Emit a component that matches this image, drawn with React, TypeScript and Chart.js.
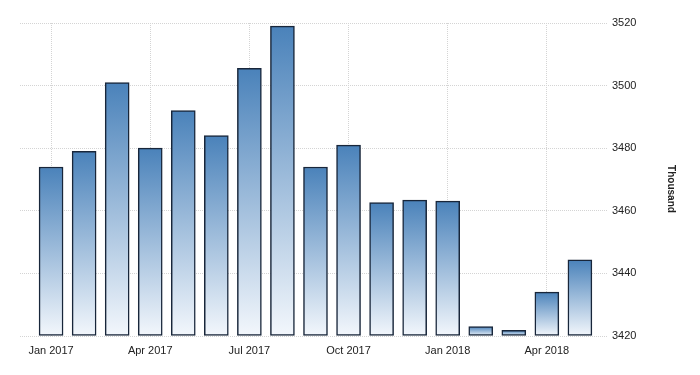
import React, { useEffect, useRef } from "react";
import { Chart, registerables } from "chart.js";

Chart.register(...registerables);

const months = [
  "Jan 2017", "Feb 2017", "Mar 2017", "Apr 2017", "May 2017", "Jun 2017",
  "Jul 2017", "Aug 2017", "Sep 2017", "Oct 2017", "Nov 2017", "Dec 2017",
  "Jan 2018", "Feb 2018", "Mar 2018", "Apr 2018", "May 2018",
];
const values = [
  3474, 3479, 3501, 3480, 3492, 3484, 3505.5, 3519, 3474, 3481, 3462.6, 3463.4,
  3463.1, 3423, 3421.8, 3434, 3444.3,
];
const xTickIndexes = [0, 3, 6, 9, 12, 15];
const yTicks = [3420, 3440, 3460, 3480, 3500, 3520];
const unitLabel = "Thousand";

const FONT = "'Liberation Sans', Arial, sans-serif";

export default function App() {
  const ref = useRef<HTMLCanvasElement | null>(null);
  useEffect(() => {
    document.body.style.margin = "0";
    const canvas = ref.current!;
    const titlePlugin = {
      id: "unitTitle",
      afterDraw(chart: any) {
        const c = chart.ctx;
        c.save();
        c.translate(671, 189);
        c.rotate(Math.PI / 2);
        c.font = `bold 10px ${FONT}`;
        c.fillStyle = "#222";
        c.textAlign = "center";
        c.textBaseline = "middle";
        c.fillText(unitLabel, 0, 0);
        c.restore();
      },
    };
    const chart = new Chart(canvas, {
      type: "bar",
      data: {
        datasets: [
          {
            data: values.map((v, i) => ({ x: i, y: v })),
            base: 3420,
            barThickness: 24,
            borderWidth: 1.5,
            borderColor: "#18263a",
            borderSkipped: false,
            clip: 6,
            backgroundColor: (ctx: any) => {
              const chart = ctx.chart;
              const area = chart.chartArea;
              if (!area || ctx.type !== "data" || !chart.scales.y) return "#6d9bc9";
              const yTop = chart.scales.y.getPixelForValue(ctx.raw.y);
              const yBot = chart.scales.y.getPixelForValue(3420);
              const g = chart.ctx.createLinearGradient(0, yTop, 0, yBot);
              g.addColorStop(0, "#4a82ba");
              g.addColorStop(1, "#f3f7fc");
              return g;
            },
          } as any,
        ],
      },
      options: {
        animation: false,
        responsive: false,
        maintainAspectRatio: false,
        layout: { padding: { left: 20, top: 23, right: 0, bottom: 0 } },
        plugins: { legend: { display: false }, tooltip: { enabled: false } },
        scales: {
          x: {
            type: "linear",
            offset: false,
            min: -0.94,
            max: 16.85,
            afterBuildTicks: (scale: any) => {
              scale.ticks = xTickIndexes.map((v) => ({ value: v }));
            },
            afterFit: (scale: any) => {
              scale.height = 39;
            },
            ticks: {
              padding: 8,
              autoSkip: false,
              maxRotation: 0,
              color: "#222",
              font: { family: FONT, size: 11 },
              callback: (v: any) => months[v as number] ?? "",
            },
            grid: {
              offset: false,
              drawTicks: false,
              color: "#d4d4d4",
              lineWidth: 1,
            },
            border: { display: false, dash: [1, 1] },
          },
          y: {
            position: "right",
            min: 3420,
            max: 3520,
            afterBuildTicks: (scale: any) => {
              scale.ticks = yTicks.map((v) => ({ value: v }));
            },
            afterFit: (scale: any) => {
              scale.width = 92;
            },
            ticks: {
              padding: 4,
              color: "#222",
              font: { family: FONT, size: 11 },
              callback: (v: any) => String(v),
            },
            grid: {
              drawTicks: false,
              color: "#d4d4d4",
              lineWidth: 1,
            },
            border: { display: false, dash: [1, 1] },
          },
        },
      },
      plugins: [titlePlugin],
    } as any);
    return () => chart.destroy();
  }, []);
  return (
    <div style={{ position: "fixed", left: 0, top: 0, width: 700, height: 375, background: "#fff" }}>
      <canvas ref={ref} width={700} height={375} style={{ width: 700, height: 375 }} />
    </div>
  );
}
